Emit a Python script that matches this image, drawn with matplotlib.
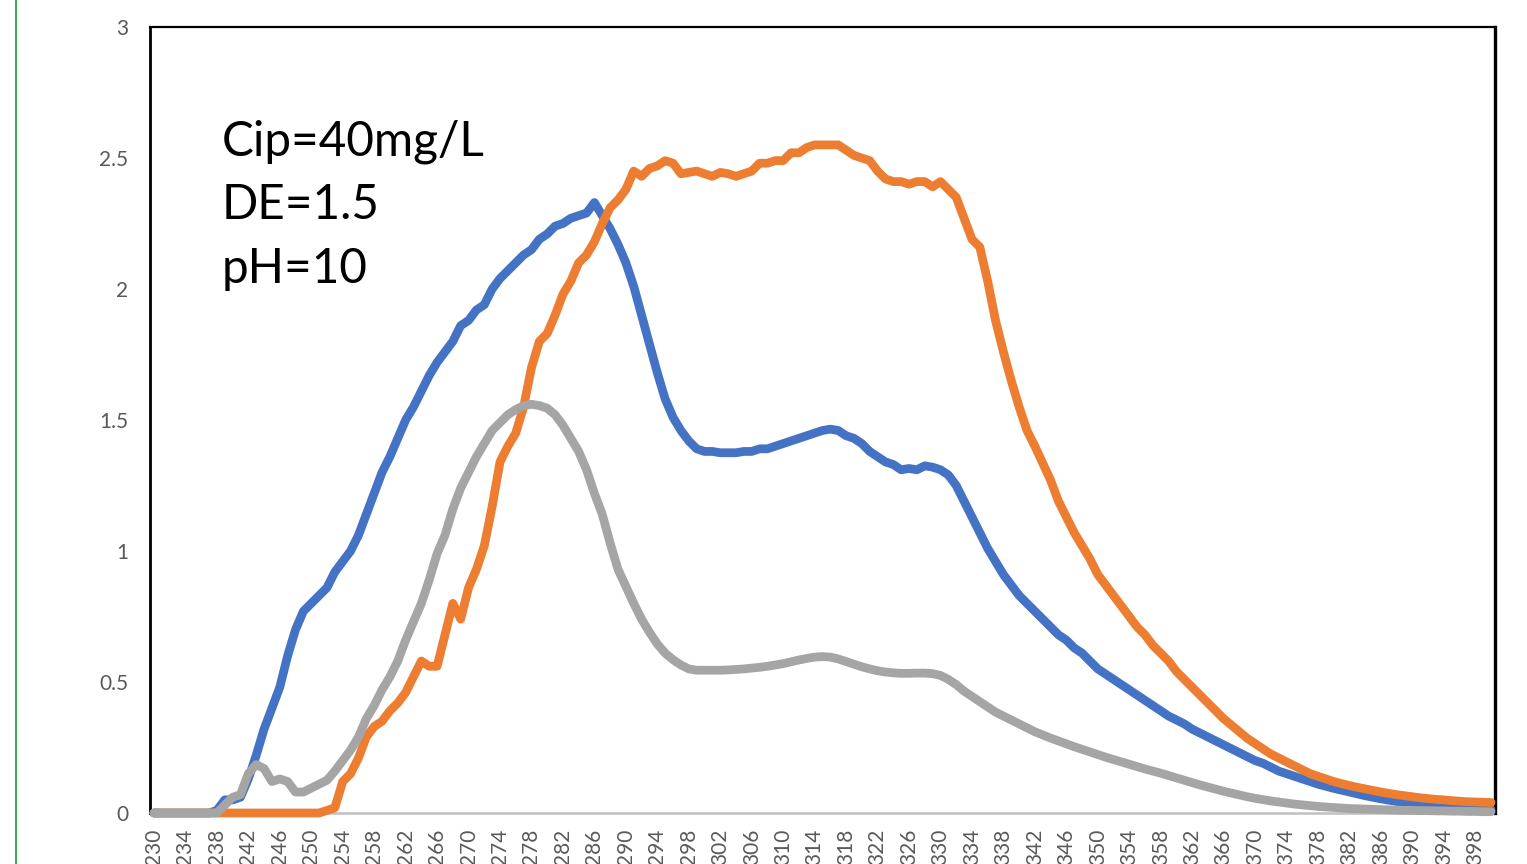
import numpy as np
import matplotlib
matplotlib.use("Agg")
import matplotlib.pyplot as plt
from matplotlib.lines import Line2D

plt.rcParams['font.family'] = ['Lato', 'DejaVu Sans']

# wavelength categories (nm), one per point
wavelengths = list(range(230, 401))

# absorbance readings, rows of 10 (230-239, 240-249, ...), last value is 400 nm
series_blue = [
    0, 0, 0, 0, 0, 0, 0, 0, 0.01, 0.05,
    0.05, 0.06, 0.13, 0.22, 0.32, 0.40, 0.48, 0.60, 0.70, 0.77,
    0.80, 0.83, 0.86, 0.92, 0.96, 1.00, 1.06, 1.14, 1.22, 1.30,
    1.36, 1.43, 1.50, 1.55, 1.61, 1.67, 1.72, 1.76, 1.80, 1.86,
    1.88, 1.92, 1.94, 2.00, 2.04, 2.07, 2.10, 2.13, 2.15, 2.19,
    2.21, 2.24, 2.25, 2.27, 2.28, 2.29, 2.33, 2.28, 2.23, 2.17,
    2.10, 2.01, 1.90, 1.79, 1.68, 1.58, 1.51, 1.46, 1.42, 1.39,
    1.38, 1.38, 1.375, 1.375, 1.375, 1.38, 1.38, 1.39, 1.39, 1.40,
    1.41, 1.42, 1.43, 1.44, 1.45, 1.46, 1.465, 1.46, 1.44, 1.43,
    1.41, 1.38, 1.36, 1.34, 1.33, 1.31, 1.315, 1.31, 1.325, 1.32,
    1.31, 1.29, 1.25, 1.19, 1.13, 1.07, 1.01, 0.96, 0.91, 0.87,
    0.83, 0.80, 0.77, 0.74, 0.71, 0.68, 0.66, 0.63, 0.61, 0.58,
    0.55, 0.53, 0.51, 0.49, 0.47, 0.45, 0.43, 0.41, 0.39, 0.37,
    0.355, 0.34, 0.32, 0.305, 0.29, 0.275, 0.26, 0.245, 0.23, 0.215,
    0.20, 0.19, 0.175, 0.16, 0.15, 0.14, 0.13, 0.12, 0.11, 0.102,
    0.094, 0.087, 0.08, 0.073, 0.066, 0.06, 0.054, 0.049, 0.044, 0.04,
    0.036, 0.032, 0.028, 0.025, 0.022, 0.02, 0.018, 0.016, 0.015, 0.014,
    0.013,
]

series_orange = [
    0, 0, 0, 0, 0, 0, 0, 0, 0, 0,
    0, 0, 0, 0, 0, 0, 0, 0, 0, 0,
    0, 0, 0.01, 0.02, 0.12, 0.15, 0.21, 0.29, 0.33, 0.35,
    0.39, 0.42, 0.46, 0.52, 0.58, 0.56, 0.56, 0.68, 0.80, 0.74,
    0.86, 0.93, 1.02, 1.17, 1.34, 1.40, 1.45, 1.55, 1.70, 1.80,
    1.83, 1.90, 1.98, 2.03, 2.10, 2.13, 2.18, 2.25, 2.31, 2.34,
    2.38, 2.45, 2.43, 2.46, 2.47, 2.49, 2.48, 2.44, 2.445, 2.45,
    2.44, 2.43, 2.445, 2.44, 2.43, 2.44, 2.45, 2.48, 2.48, 2.49,
    2.49, 2.52, 2.52, 2.54, 2.55, 2.55, 2.55, 2.55, 2.53, 2.51,
    2.50, 2.49, 2.45, 2.42, 2.41, 2.41, 2.40, 2.41, 2.41, 2.39,
    2.41, 2.38, 2.35, 2.27, 2.19, 2.16, 2.03, 1.88, 1.76, 1.65,
    1.55, 1.46, 1.40, 1.335, 1.27, 1.19, 1.13, 1.07, 1.02, 0.97,
    0.91, 0.87, 0.83, 0.79, 0.75, 0.71, 0.68, 0.64, 0.61, 0.58,
    0.54, 0.51, 0.48, 0.45, 0.42, 0.39, 0.36, 0.335, 0.31, 0.285,
    0.265, 0.245, 0.225, 0.21, 0.195, 0.18, 0.165, 0.15, 0.14, 0.13,
    0.12, 0.112, 0.105, 0.098, 0.092, 0.086, 0.08, 0.075, 0.07, 0.066,
    0.062, 0.058, 0.055, 0.052, 0.05, 0.047, 0.045, 0.043, 0.042, 0.041,
    0.04,
]

series_gray = [
    0, 0, 0, 0, 0, 0, 0, 0, 0, 0.03,
    0.06, 0.07, 0.15, 0.185, 0.17, 0.12, 0.13, 0.12, 0.08, 0.08,
    0.095, 0.11, 0.125, 0.16, 0.20, 0.24, 0.29, 0.36, 0.41, 0.47,
    0.52, 0.58, 0.66, 0.73, 0.80, 0.89, 0.99, 1.06, 1.16, 1.24,
    1.30, 1.36, 1.41, 1.46, 1.49, 1.52, 1.54, 1.555, 1.56, 1.555,
    1.545, 1.52, 1.48, 1.43, 1.38, 1.31, 1.22, 1.14, 1.03, 0.93,
    0.865, 0.80, 0.74, 0.69, 0.645, 0.61, 0.585, 0.565, 0.55, 0.545,
    0.545, 0.545, 0.545, 0.546, 0.548, 0.55, 0.553, 0.556, 0.56, 0.565,
    0.57, 0.577, 0.584, 0.59, 0.595, 0.597, 0.595, 0.588, 0.578, 0.568,
    0.558, 0.55, 0.543, 0.538, 0.535, 0.533, 0.533, 0.534, 0.534, 0.532,
    0.525, 0.51, 0.49, 0.465, 0.445, 0.425, 0.405, 0.385, 0.37, 0.355,
    0.34, 0.325, 0.31, 0.298, 0.286, 0.275, 0.264, 0.253, 0.243, 0.233,
    0.223, 0.213, 0.204, 0.195, 0.186, 0.177, 0.168, 0.16, 0.152, 0.143,
    0.134, 0.125, 0.116, 0.107, 0.099, 0.091, 0.083, 0.076, 0.069, 0.062,
    0.056, 0.051, 0.046, 0.042, 0.038, 0.034, 0.031, 0.028, 0.025, 0.023,
    0.021, 0.019, 0.017, 0.016, 0.015, 0.014, 0.013, 0.012, 0.011, 0.01,
    0.01, 0.009, 0.009, 0.008, 0.008, 0.007, 0.007, 0.006, 0.006, 0.005,
    0.005,
]

y_ticks = [0, 0.5, 1, 1.5, 2, 2.5, 3]
y_ticklabels = ['0', '0.5', '1', '1.5', '2', '2.5', '3']
note_lines = ['Cip=40mg/L', 'DE=1.5', 'pH=10']

for s in (series_blue, series_orange, series_gray):
    if len(s) != len(wavelengths):
        raise SystemExit(f'length mismatch: {len(s)}')

W, H = 1527, 864
fig = plt.figure(figsize=(W / 100, H / 100), dpi=100)
fig.patch.set_facecolor('white')

# plot area in pixels: x 150..1495, y 27..813
ax = fig.add_axes([150 / W, 1 - 813 / H, 1345 / W, 786 / H])

idx = np.arange(len(wavelengths))
for vals, col in ((series_blue, '#4472C4'),
                  (series_orange, '#ED7D31'),
                  (series_gray, '#A5A5A5')):
    ax.plot(idx, vals, color=col, lw=6.3, solid_joinstyle='round',
            solid_capstyle='round', clip_on=False, zorder=3)

ax.set_xlim(-0.5, len(wavelengths) - 0.5)
ax.set_ylim(0, 3)

ax.set_yticks(y_ticks)
ax.set_yticklabels(y_ticklabels)
tick_pos = idx[::4]
ax.set_xticks(tick_pos)
ax.set_xticklabels([str(wavelengths[i]) for i in tick_pos], rotation=90)
ax.tick_params(axis='both', length=0, labelsize=15, labelcolor='#595959')
ax.tick_params(axis='y', pad=15.5)
ax.tick_params(axis='x', pad=11)

for side in ('left', 'top', 'right'):
    ax.spines[side].set_color('black')
ax.spines['left'].set_linewidth(2.0)
ax.spines['top'].set_linewidth(1.6)
ax.spines['right'].set_linewidth(2.4)
ax.spines['bottom'].set_color('#c0c0c0')
ax.spines['bottom'].set_linewidth(1.8)
ax.spines['bottom'].set_zorder(2)

for i, line in enumerate(note_lines):
    fig.text(222 / W, 1 - (155 + 64 * i) / H, line, fontsize=34.3,
             color='black', va='baseline', ha='left')

# thin green frame edge at the far left
fig.add_artist(Line2D([16 / W, 16 / W], [0, 1], color='#3daa5c', lw=1.5))

fig.savefig('out.png', dpi=100)
